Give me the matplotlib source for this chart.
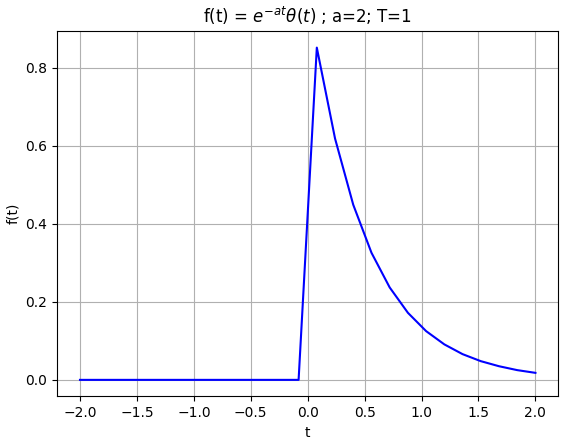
import matplotlib
matplotlib.use("Agg")
import matplotlib.pyplot as plt

# sample times (step 0.16) and values
t = [-2.0, -1.84, -1.68, -1.52, -1.36, -1.2, -1.04, -0.88, -0.72, -0.56, -0.4, -0.24, -0.08,
     0.08, 0.24, 0.4, 0.56, 0.72, 0.88, 1.04, 1.2, 1.36, 1.52, 1.68, 1.84, 2.0]
f = [0.0] * 13 + [0.852, 0.619, 0.449, 0.326, 0.237, 0.172, 0.125, 0.091,
                  0.066, 0.048, 0.035, 0.025, 0.018]

fig = plt.figure(figsize=(5.61, 4.43), dpi=100)
ax = fig.add_axes([0.102, 0.105, 0.893, 0.825])
ax.plot(t, f, color='blue')
ax.set_title(r'f(t) = $e^{-at}\theta(t)$ ; a=2; T=1')
ax.set_xlabel('t')
ax.set_ylabel('f(t)')
ax.grid(True)
fig.savefig('out.png')
